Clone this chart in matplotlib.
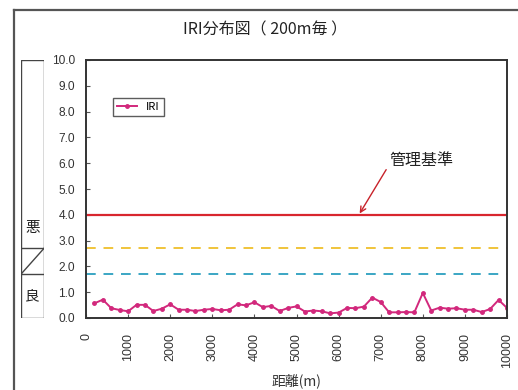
import matplotlib.pyplot as plt
from matplotlib.patches import Rectangle

plt.rcParams['font.family'] = ['Noto Sans CJK JP', 'DejaVu Sans']

# IRI 値 (200m 毎)
distance = list(range(200, 10001, 200))
iri = [0.57, 0.71, 0.38, 0.31, 0.26, 0.51, 0.51, 0.27, 0.36, 0.53,
       0.32, 0.32, 0.27, 0.32, 0.35, 0.30, 0.32, 0.53, 0.49, 0.61,
       0.42, 0.47, 0.27, 0.39, 0.45, 0.25, 0.29, 0.26, 0.18, 0.21,
       0.39, 0.38, 0.44, 0.79, 0.62, 0.22, 0.22, 0.23, 0.22, 0.97,
       0.29, 0.40, 0.36, 0.38, 0.32, 0.32, 0.23, 0.35, 0.70, 0.39]

kanri = 4.0      # 管理基準
level_hi = 2.7
level_lo = 1.7
xticks = list(range(0, 10001, 1000))
yticks = [i * 1.0 for i in range(11)]

W, H = 518, 390
fig = plt.figure(figsize=(W / 100, H / 100), dpi=100)

# 外枠
fig.add_artist(plt.Line2D([14 / W, 14 / W], [0, 1 - 10 / H], transform=fig.transFigure, color='#555555', lw=1.6))
fig.add_artist(plt.Line2D([14 / W, 1], [1 - 10 / H, 1 - 10 / H], transform=fig.transFigure, color='#555555', lw=1.6))

ax = fig.add_axes([86 / W, 72 / H, 421 / W, 258 / H])
ax.plot(distance, iri, color='#d2287c', lw=1.4, marker='o', ms=2.5, label='IRI')
ax.axhline(kanri, color='#d8262e', lw=1.6)
ax.axhline(level_hi, color='#f0c43a', lw=1.4, ls=(0, (5, 4)))
ax.axhline(level_lo, color='#3aa6c4', lw=1.4, ls=(0, (5, 4)))

ax.set_xlim(0, 10000)
ax.set_ylim(0, 10)
ax.set_xticks(xticks)
ax.set_xticklabels([str(x) for x in xticks], rotation=90, fontsize=9,
                   family='Liberation Sans', color='#333333')
ax.set_yticks(yticks)
ax.set_yticklabels(['%.1f' % y for y in yticks], fontsize=8.6,
                   family='Liberation Sans', color='#333333')
ax.tick_params(direction='in', length=3, color='#555555')
ax.tick_params(axis='x', pad=11)
ax.tick_params(axis='y', pad=8)
for s in ax.spines.values():
    s.set_color('#333333')
    s.set_linewidth(1.4)

ax.set_xlabel('距離(m)', fontsize=10, color='#333333', labelpad=4)

leg = ax.legend(loc='upper left', bbox_to_anchor=(0.052, 0.875), fontsize=8,
                frameon=True, fancybox=False, handlelength=1.8, borderpad=0.35)
leg.get_frame().set_edgecolor('#333333')
leg.get_frame().set_linewidth(1.0)

ax.text(7960, 6.12, '管理基準', fontsize=11.5, ha='center', va='center', color='#222222')
ax.annotate('', xy=(6500, kanri + 0.05), xytext=(7130, 5.75),
            arrowprops=dict(arrowstyle='->', color='#c8222a', lw=1.0,
                            shrinkA=0, shrinkB=0))

fig.text(265 / W, 1 - 30 / H, 'IRI分布図（ 200m毎 ）', fontsize=11.5, ha='center', va='center', color='#222222')

# 左の良/悪ボックス
bx = fig.add_axes([21 / W, 72 / H, 23 / W, 258 / H])
bx.set_xlim(0, 1)
bx.set_ylim(0, 10)
bx.axis('off')
bx.add_patch(Rectangle((0, 0), 1, 10, fill=False, ec='#444444', lw=1.0))
bx.plot([0, 1], [level_hi, level_hi], color='#444444', lw=1.0)
bx.plot([0, 1], [level_lo, level_lo], color='#444444', lw=1.0)
bx.plot([0, 1], [level_lo, level_hi], color='#444444', lw=1.0)
bx.text(0.5, 3.5, '悪', ha='center', va='center', fontsize=10.5, color='#222222')
bx.text(0.5, 0.85, '良', ha='center', va='center', fontsize=10.5, color='#222222')

fig.savefig('out.png', dpi=100)
